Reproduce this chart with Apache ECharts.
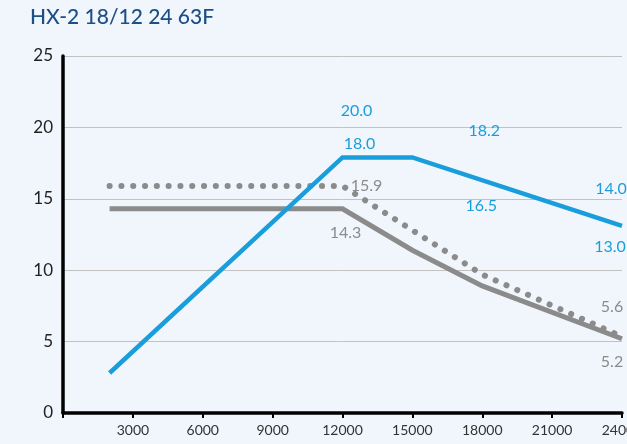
<!DOCTYPE html>
<html>
<head>
<meta charset="utf-8">
<script src="https://cdn.jsdelivr.net/npm/echarts@6/dist/echarts.min.js"></script>
<style>
html,body{margin:0;padding:0;background:#f1f6fd;}
#chart{width:627px;height:444px;}
</style>
</head>
<body>
<div id="chart"></div>
<script>
// ---- data ----
const title = 'HX-2 18/12 24 63F';
const yTicks = [0, 5, 10, 15, 20, 25];
const xTicks = [3000, 6000, 9000, 12000, 15000, 18000, 21000, 24000];
const blueX = [2000, 12000, 15000, 24000];
const blueY = [2.8, 17.9, 17.9, 13.1];
const dottedX = [2000, 12000, 18000, 24000];
const dottedY = [15.9, 15.9, 9.7, 5.35];
const solidX = [2000, 12000, 15000, 18000, 24000];
const solidY = [14.3, 14.3, 11.4, 8.9, 5.2];
// annotation texts, anchored at a point of the series
const blueNotes = [
  { text: '20.0', x: 12000, y: 17.9 },
  { text: '18.0', x: 12000, y: 17.9 },
  { text: '18.2', x: 18000, y: 16.3 },
  { text: '16.5', x: 18000, y: 16.3 },
  { text: '14.0', x: 24000, y: 13.1 },
  { text: '13.0', x: 24000, y: 13.1 }
];
const dottedNotes = [
  { text: '15.9', x: 12000, y: 15.9 },
  { text: '5.6', x: 24000, y: 5.35 }
];
const solidNotes = [
  { text: '14.3', x: 12000, y: 14.3 },
  { text: '5.2', x: 24000, y: 5.2 }
];

// ---- styling ----
const FONT = 'Lato';
const BLUE = '#1a9edb';
const GRAY = '#8b8b8b';
const blueOffsets = [[14, -47], [17, -14], [2, -49], [-1, 26], [-11, -37], [-12, 21]];
const dottedOffsets = [[24, 0], [-10, -30]];
const solidOffsets = [[3, 24], [-10, 23]];

function pairs(xs, ys) { return xs.map((x, i) => [x, ys[i]]); }
function notes(list, offs, color) {
  return {
    silent: true,
    symbol: 'circle',
    symbolSize: 0,
    data: list.map((n, i) => ({
      coord: [n.x, n.y],
      label: {
        show: true, position: 'inside', formatter: n.text,
        offset: offs[i], color: color, fontSize: 16, fontFamily: FONT
      }
    }))
  };
}

const chart = echarts.init(document.getElementById('chart'), null, { renderer: 'canvas' });
chart.setOption({
  backgroundColor: '#f1f6fd',
  animation: false,
  title: {
    text: title, left: 30, top: 7, padding: 0,
    textStyle: { color: '#1d4f87', fontSize: 21, fontWeight: 500, fontFamily: FONT }
  },
  grid: { left: 63, right: 5, top: 56, bottom: 31, containLabel: false, outerBoundsMode: 'none' },
  xAxis: {
    type: 'value', min: 0, max: 24000, interval: 3000,
    axisLine: { show: true, onZero: false, lineStyle: { color: '#000', width: 3.5 } },
    axisTick: { show: true, length: 5, lineStyle: { color: '#000', width: 2 } },
    axisLabel: {
      color: '#333', fontSize: 14, fontFamily: FONT, margin: 10, hideOverlap: false,
      formatter: v => (xTicks.indexOf(v) >= 0 ? String(v) : '')
    },
    splitLine: { show: false }
  },
  yAxis: {
    type: 'value', min: yTicks[0], max: yTicks[yTicks.length - 1], interval: 5,
    axisLine: { show: true, lineStyle: { color: '#000', width: 3.5 } },
    axisTick: { show: false },
    axisLabel: { color: '#222', fontSize: 17, fontFamily: FONT, margin: 10 },
    splitLine: { show: true, lineStyle: { color: '#c2c2c2', width: 1 } }
  },
  series: [
    {
      type: 'line', data: pairs(solidX, solidY), symbol: 'none',
      lineStyle: { color: GRAY, width: 5, join: 'miter' },
      markPoint: notes(solidNotes, solidOffsets, GRAY)
    },
    {
      type: 'line', data: pairs(dottedX, dottedY), symbol: 'none',
      lineStyle: { color: GRAY, width: 6, type: [0.1, 11.7], cap: 'round' },
      markPoint: notes(dottedNotes, dottedOffsets, GRAY)
    },
    {
      type: 'line', data: pairs(blueX, blueY), symbol: 'none',
      lineStyle: { color: BLUE, width: 4.5, join: 'miter' },
      markPoint: notes(blueNotes, blueOffsets, BLUE)
    }
  ]
});
</script>
</body>
</html>
